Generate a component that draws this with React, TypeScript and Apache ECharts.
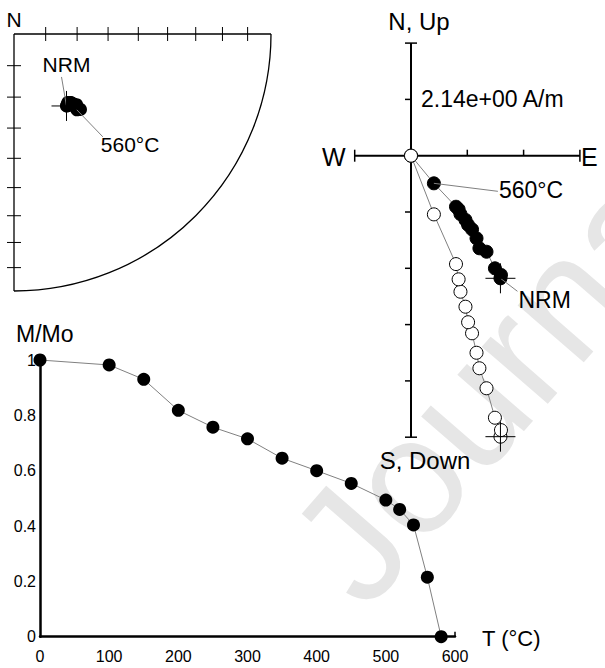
import React, { useEffect, useRef } from "react";
import * as echarts from "echarts";

// ---------- data ----------
const steps = [0, 100, 150, 200, 250, 300, 350, 400, 450, 500, 520, 540, 560, 580];
// demagnetization vector components (A/m): East, North, Down
const eastAm = [3.40, 3.42, 3.19, 2.87, 2.60, 2.49, 2.32, 2.17, 2.07, 1.88, 1.81, 1.71, 0.87, 0];
const northAm = [-4.66, -4.53, -4.28, -3.65, -3.52, -3.14, -2.80, -2.63, -2.44, -2.22, -2.04, -1.94, -1.05, 0];
const downAm = [10.68, 10.43, 9.96, 8.84, 8.08, 7.49, 6.75, 6.33, 5.74, 5.17, 4.70, 4.12, 2.23, 0];
// normalized intensity
const mOverMo = [1, 0.982, 0.93, 0.818, 0.757, 0.715, 0.645, 0.6, 0.554, 0.494, 0.46, 0.404, 0.215, 0];

const zijUnit = 2.14; // A/m per tick
const zijXTicks = [-1, 0, 1, 2, 3];
const zijYTicks = [-5, -4, -3, -2, -1, 0, 1, 2];
const stereoTickIncs = [80, 70, 60, 50, 40, 30, 20, 10];
const demagXTicks = [0, 100, 200, 300, 400, 500, 600];
const demagYTicks = [0, 0.2, 0.4, 0.6, 0.8, 1];

const FONT = "'Liberation Sans', Arial, Helvetica, sans-serif";
const GRAY = "#808080";

function eqArea(incDeg: number) {
  return Math.SQRT2 * Math.sin((((90 - incDeg) / 2) * Math.PI) / 180);
}

const stereoPts: number[][] = [];
steps.forEach((_, i) => {
  const E = eastAm[i], N = northAm[i], D = downAm[i];
  const h = Math.hypot(E, N);
  if (h === 0 && D === 0) return;
  const dec = Math.atan2(E, N);
  const inc = (Math.atan2(D, h) * 180) / Math.PI;
  const r = eqArea(inc);
  stereoPts.push([r * Math.sin(dec), r * Math.cos(dec)]);
});
const stereoLast = stereoPts[stereoPts.length - 1];

const solidPts = steps.map((_, i) => [eastAm[i], northAm[i]]);
const openPts = steps.map((_, i) => [eastAm[i], -downAm[i]]);
const demagPts = steps.map((t, i) => [t, mOverMo[i]]);
const idx560 = steps.indexOf(560);

function txt(x: number, y: number, text: string, size: number, align: string, valign: string) {
  return {
    type: "text",
    x,
    y,
    style: { text, font: `${size}px ${FONT}`, fill: "#000", textAlign: align, textVerticalAlign: valign },
  };
}
function ln(x1: number, y1: number, x2: number, y2: number, w = 1, c = "#000") {
  return { type: "line", shape: { x1, y1, x2, y2 }, style: { stroke: c, lineWidth: w } };
}

function leaderLabel(
  gi: number,
  pt: number[],
  text: string,
  end: number[],
  tpos: number[],
  align: string,
  size: number
) {
  return {
    type: "custom",
    xAxisIndex: gi,
    yAxisIndex: gi,
    clip: false,
    z: 4,
    silent: true,
    data: [pt],
    renderItem: (_p: any, api: any) => {
      const c = api.coord([api.value(0), api.value(1)]);
      return {
        type: "group",
        children: [
          ln(c[0], c[1], c[0] + end[0], c[1] + end[1], 1, GRAY),
          txt(c[0] + tpos[0], c[1] + tpos[1], text, size, align, "middle"),
        ],
      };
    },
  };
}

function cross(gi: number, pts: number[][]) {
  return {
    type: "custom",
    xAxisIndex: gi,
    yAxisIndex: gi,
    clip: false,
    z: 5,
    silent: true,
    data: pts,
    renderItem: (_p: any, api: any) => {
      const c = api.coord([api.value(0), api.value(1)]);
      const a = 15;
      return {
        type: "group",
        children: [ln(c[0] - a, c[1], c[0] + a, c[1]), ln(c[0], c[1] - a, c[0], c[1] + a)],
      };
    },
  };
}

export default function App() {
  const ref = useRef<HTMLDivElement>(null);
  useEffect(() => {
    if (!ref.current) return;
    const chart = echarts.init(ref.current, null, { renderer: "svg" });

    const stereoFrame = {
      type: "custom",
      xAxisIndex: 0,
      yAxisIndex: 0,
      clip: false,
      silent: true,
      z: 1,
      data: [[0, 0]],
      renderItem: (_p: any, api: any) => {
        const o = api.coord([0, 0]);
        const e = api.coord([1, 0]);
        const s = api.coord([0, -1]);
        const R = e[0] - o[0];
        const ch: any[] = [
          ln(o[0], o[1], e[0], e[1], 1.3),
          ln(o[0], o[1], s[0], s[1], 1.3),
          {
            type: "arc",
            shape: { cx: o[0], cy: o[1], r: R, startAngle: 0, endAngle: Math.PI / 2, clockwise: true },
            style: { stroke: "#000", lineWidth: 1.3, fill: "none" },
          },
          txt(o[0], o[1] - 4, "N", 21, "center", "bottom"),
        ];
        stereoTickIncs.forEach((inc) => {
          const r = eqArea(inc) * R;
          ch.push(ln(o[0] + r, o[1] - 7, o[0] + r, o[1] + 7, 1));
          ch.push(ln(o[0] - 7, o[1] + r, o[0] + 7, o[1] + r, 1));
        });
        return { type: "group", children: ch };
      },
    };

    const zijAxes = {
      type: "custom",
      xAxisIndex: 1,
      yAxisIndex: 1,
      clip: false,
      silent: true,
      z: 1,
      data: [[0, 0]],
      renderItem: (_p: any, api: any) => {
        const u = zijUnit;
        const xMin = zijXTicks[0], xMax = zijXTicks[zijXTicks.length - 1];
        const yMin = zijYTicks[0], yMax = zijYTicks[zijYTicks.length - 1];
        const l = api.coord([xMin * u, 0]);
        const r = api.coord([xMax * u, 0]);
        const t = api.coord([0, yMax * u]);
        const b = api.coord([0, yMin * u]);
        const cap = 6;
        const ch: any[] = [
          ln(l[0], l[1], r[0], r[1], 2),
          ln(t[0], t[1], b[0], b[1], 2),
          ln(l[0], l[1] - cap, l[0], l[1] + cap, 1.5),
          ln(r[0], r[1] - cap, r[0], r[1] + cap, 1.5),
          ln(t[0] - cap, t[1], t[0] + cap, t[1], 1.5),
          ln(b[0] - cap, b[1], b[0] + cap, b[1], 1.5),
        ];
        zijXTicks.forEach((k) => {
          if (k === 0 || k === xMin || k === xMax) return;
          const p = api.coord([k * u, 0]);
          ch.push(ln(p[0], p[1], p[0], p[1] - 6, 1.5));
        });
        zijYTicks.forEach((k) => {
          if (k === 0 || k === yMin || k === yMax) return;
          const p = api.coord([0, k * u]);
          ch.push(ln(p[0] - 6, p[1], p[0], p[1], 1.5));
        });
        const s1 = api.coord([0, u]);
        ch.push(txt(s1[0] + 10, s1[1], `${u.toFixed(2)}e+00 A/m`, 23, "left", "middle"));
        ch.push(txt(l[0] - 9, l[1] + 1, "W", 25, "right", "middle"));
        ch.push(txt(r[0] + 1, r[1] + 1, "E", 25, "left", "middle"));
        ch.push(txt(t[0] + 8, t[1] - 10, "N, Up", 24, "center", "bottom"));
        ch.push(txt(b[0] + 14, b[1] + 11, "S, Down", 24, "center", "top"));
        return { type: "group", children: ch };
      },
    };

    const demagLabels = {
      type: "custom",
      xAxisIndex: 2,
      yAxisIndex: 2,
      clip: false,
      silent: true,
      z: 1,
      data: [[0, 0]],
      renderItem: (_p: any, api: any) => {
        const top = api.coord([0, demagYTicks[demagYTicks.length - 1]]);
        const end = api.coord([demagXTicks[demagXTicks.length - 1], 0]);
        return {
          type: "group",
          children: [
            txt(top[0] - 24, top[1] - 15, "M/Mo", 23, "left", "bottom"),
            txt(end[0] + 27, end[1] + 2, "T (°C)", 22, "left", "middle"),
          ],
        };
      },
    };

    const option: any = {
      animation: false,
      backgroundColor: "#fff",
      textStyle: { fontFamily: FONT },
      graphic: [
        {
          type: "text",
          x: 385,
          y: 630,
          rotation: (49 * Math.PI) / 180,
          z: -100,
          silent: true,
          style: {
            text: "Journal Pre-proof",
            font: `165px ${FONT}`,
            fill: "#e6e6e6",
            textAlign: "left",
            textVerticalAlign: "bottom",
          },
        },
      ],
      grid: [
        { left: 14, top: 34, width: 257, height: 257 },
        { left: 354.7, top: 43.1, width: 225.2, height: 394.1 },
        { left: 40, top: 360, width: 415, height: 276.7 },
      ],
      xAxis: [
        { gridIndex: 0, type: "value", min: 0, max: 1, show: false },
        {
          gridIndex: 1,
          type: "value",
          min: zijXTicks[0] * zijUnit,
          max: zijXTicks[zijXTicks.length - 1] * zijUnit,
          show: false,
        },
        {
          gridIndex: 2,
          type: "value",
          min: 0,
          max: 600,
          interval: 100,
          splitLine: { show: false },
          axisLine: { lineStyle: { color: "#000", width: 2.5 } },
          axisTick: { show: true, inside: true, length: 5, customValues: [600], lineStyle: { color: "#000", width: 1.5 } },
          axisLabel: { color: "#000", fontSize: 16, margin: 12, fontFamily: FONT },
        },
      ],
      yAxis: [
        { gridIndex: 0, type: "value", min: -1, max: 0, show: false },
        {
          gridIndex: 1,
          type: "value",
          min: zijYTicks[0] * zijUnit,
          max: zijYTicks[zijYTicks.length - 1] * zijUnit,
          show: false,
        },
        {
          gridIndex: 2,
          type: "value",
          min: 0,
          max: 1,
          interval: 0.2,
          splitLine: { show: false },
          axisLine: { lineStyle: { color: "#000", width: 2.5 } },
          axisTick: { show: false },
          axisLabel: { color: "#000", fontSize: 16, margin: 4, fontFamily: FONT },
        },
      ],
      series: [
        stereoFrame,
        {
          type: "scatter",
          xAxisIndex: 0,
          yAxisIndex: 0,
          data: stereoPts,
          symbolSize: 13,
          itemStyle: { color: "#000", opacity: 1 },
          z: 3,
        },
        cross(0, [stereoPts[0]]),
        leaderLabel(0, stereoPts[0], "NRM", [-5, -29], [0, -41], "center", 21),
        leaderLabel(0, stereoLast, "560°C", [26, 27], [24, 35], "left", 21),

        zijAxes,
        {
          type: "line",
          xAxisIndex: 1,
          yAxisIndex: 1,
          data: solidPts,
          symbol: "circle",
          symbolSize: 13,
          lineStyle: { color: GRAY, width: 1 },
          itemStyle: { color: "#000", borderColor: "#000", borderWidth: 1 },
          z: 3,
        },
        {
          type: "line",
          xAxisIndex: 1,
          yAxisIndex: 1,
          data: openPts,
          symbol: "circle",
          symbolSize: 13,
          lineStyle: { color: GRAY, width: 1 },
          itemStyle: { color: "#fff", borderColor: "#000", borderWidth: 1 },
          z: 3,
        },
        cross(1, [solidPts[0], openPts[0]]),
        leaderLabel(1, solidPts[idx560], "560°C", [64, 8], [65, 7], "left", 23),
        leaderLabel(1, solidPts[0], "NRM", [17, 13], [18, 22], "left", 23),

        demagLabels,
        {
          type: "line",
          xAxisIndex: 2,
          yAxisIndex: 2,
          data: demagPts,
          symbol: "circle",
          symbolSize: 13,
          lineStyle: { color: GRAY, width: 1 },
          itemStyle: { color: "#000" },
          z: 3,
        },
      ],
    };
    chart.setOption(option);
    return () => chart.dispose();
  }, []);
  return (
    <div
      ref={ref}
      style={{ position: "fixed", left: 0, top: 0, width: 605, height: 668, background: "#fff" }}
    />
  );
}
